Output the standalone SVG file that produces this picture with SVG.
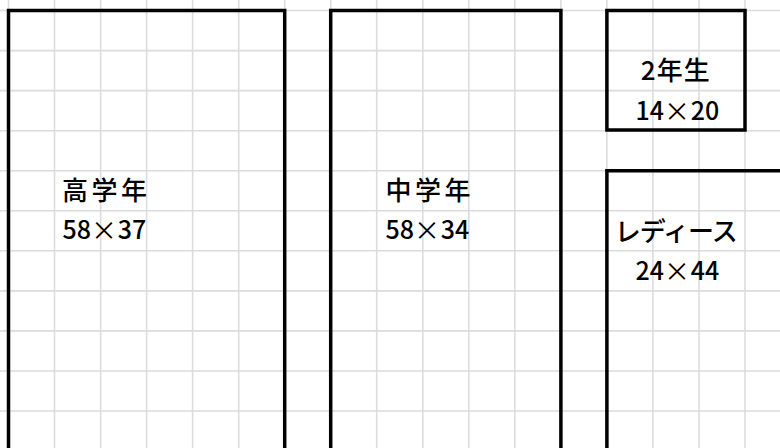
<svg xmlns="http://www.w3.org/2000/svg" width="780" height="448" viewBox="0 0 780 448">
<style>
.grid{stroke:#dcdcdc;stroke-width:1.6;fill:none}
.box{stroke:#000;stroke-width:3.5;fill:none}
.lbl{font-family:"Noto Sans CJK JP","Noto Sans",sans-serif;font-size:26px;font-weight:500;fill:#000}
.num{font-family:"Noto Sans CJK JP","Noto Sans",sans-serif;font-size:25px;font-weight:500;fill:#000}
.x{font-size:26px;font-weight:400}
</style>
<rect width="780" height="448" fill="#fff"/>
<path class="grid" d="M8.5,0V448M54.5,0V448M100.6,0V448M146.6,0V448M192.6,0V448M238.7,0V448M284.7,0V448M330.7,0V448M376.7,0V448M422.8,0V448M468.8,0V448M514.8,0V448M560.9,0V448M606.9,0V448M652.9,0V448M699,0V448M745,0V448
M0,10.5H780M0,50.6H780M0,90.6H780M0,130.7H780M0,170.7H780M0,210.8H780M0,250.8H780M0,290.9H780M0,330.9H780M0,371H780M0,411H780"/>
<g id="connectors"></g>
<g id="upper-grades">
<path class="box" d="M8.5,460V10.5H284.7V460"/>
<text class="lbl" x="104.5" y="200" text-anchor="middle" textLength="85">高学年</text>
<text class="num" y="238.5"><tspan x="62.5">58</tspan><tspan class="x" x="91" y="239.5">×</tspan><tspan x="117.8" y="238.5">37</tspan></text>
</g>
<g id="middle-grades">
<path class="box" d="M330.7,460V10.5H560.9V460"/>
<text class="lbl" x="428" y="200" text-anchor="middle" textLength="85">中学年</text>
<text class="num" y="238.5"><tspan x="385.5">58</tspan><tspan class="x" x="414" y="239.5">×</tspan><tspan x="440.8" y="238.5">34</tspan></text>
</g>
<g id="second-grade">
<rect class="box" x="606.9" y="10.5" width="138.1" height="119.5"/>
<text class="lbl" x="675.3" y="79.5" text-anchor="middle" textLength="69">2年生</text>
<text class="num" y="119.5"><tspan x="635.5">14</tspan><tspan class="x" x="664" y="120.5">×</tspan><tspan x="690.8" y="119.5">20</tspan></text>
</g>
<g id="ladies">
<path class="box" d="M606.9,460V170.7H790"/>
<text class="lbl" x="676.3" y="240.5" text-anchor="middle" textLength="123">レディース</text>
<text class="num" y="279.5"><tspan x="635.5">24</tspan><tspan class="x" x="664" y="280.5">×</tspan><tspan x="690.8" y="279.5">44</tspan></text>
</g>
</svg>
